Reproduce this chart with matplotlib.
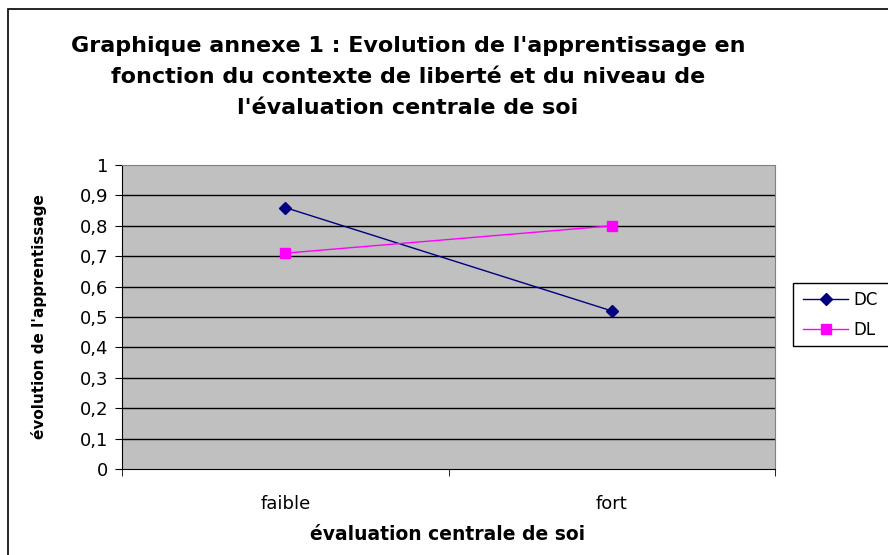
import matplotlib
matplotlib.use("Agg")
import matplotlib.pyplot as plt
from matplotlib.patches import Rectangle
from matplotlib.ticker import FixedLocator, NullFormatter

plt.rcParams['font.family'] = ['DejaVu Sans']

categories = ["faible", "fort"]
dc_values = [0.86, 0.52]
dl_values = [0.71, 0.80]
y_ticks = [0, 0.1, 0.2, 0.3, 0.4, 0.5, 0.6, 0.7, 0.8, 0.9, 1]
y_tick_labels = ["0", "0,1", "0,2", "0,3", "0,4", "0,5", "0,6", "0,7", "0,8", "0,9", "1"]
title = "Graphique annexe 1 : Evolution de l'apprentissage en\nfonction du contexte de liberté et du niveau de\nl'évaluation centrale de soi"

W, H = 888, 555
fig = plt.figure(figsize=(W/100, H/100), dpi=100)
fig.patch.set_facecolor("white")

# outer frame (extends beyond right and bottom edges)
fig.add_artist(Rectangle((8/W, -0.1), 1.0, 1.1 - 9/H, transform=fig.transFigure,
                         fill=False, edgecolor="black", linewidth=1.2))

left, right, top, bottom = 122, 775, 165, 469
ax = fig.add_axes([left/W, 1 - bottom/H, (right-left)/W, (bottom-top)/H])
ax.set_facecolor("#C0C0C0")

x = list(range(len(categories)))
ax.plot(x, dc_values, color="#000080", linewidth=1, marker="D", markersize=6.5, label="DC", zorder=3)
ax.plot(x, dl_values, color="#FF00FF", linewidth=1, marker="s", markersize=7, label="DL", zorder=3)

ax.set_xlim(-0.5, len(categories) - 0.5)
ax.set_ylim(0, 1)
ax.set_yticks(y_ticks)
ax.set_yticklabels(y_tick_labels, fontsize=13)
for yv in y_ticks[1:-1]:
    ax.axhline(yv, color="black", linewidth=1, zorder=1)

ax.set_xticks(x)
ax.set_xticklabels(categories, fontsize=13)
ax.tick_params(axis="x", length=0, pad=19)
ax.xaxis.set_minor_locator(FixedLocator([-0.5, 0.5, 1.5]))
ax.xaxis.set_minor_formatter(NullFormatter())
ax.tick_params(axis="x", which="minor", length=5, direction="out", color="black")
ax.tick_params(axis="y", length=5, direction="out", color="black", pad=5)

ax.spines["top"].set_color("#808080")
ax.spines["right"].set_color("#808080")
ax.spines["left"].set_color("black")
ax.spines["bottom"].set_color("black")

ax.set_ylabel("évolution de l'apprentissage", fontsize=11, fontweight="bold")
ax.yaxis.set_label_coords((39 - left)/(right - left), 0.5)
ax.yaxis.label.set_va("center")
ax.set_xlabel("évaluation centrale de soi", fontsize=13.5, fontweight="bold")
ax.xaxis.set_label_coords((448 - left)/(right - left), (bottom - 535)/(bottom - top))
ax.xaxis.label.set_va("center")

fig.text(408/W, 1 - 77/H, title, ha="center", va="center", fontsize=16, fontweight="bold",
         linespacing=1.68)

# legend box (extends beyond right edge)
fig.add_artist(Rectangle((793/W, 1 - 346/H), 0.2, (346 - 283)/H, transform=fig.transFigure,
                         facecolor="white", edgecolor="black", linewidth=1))
leg = fig.legend(loc="center left", bbox_to_anchor=(803/W, 1 - 315/H), fontsize=12,
                 frameon=False, handlelength=2.7, borderpad=0, borderaxespad=0,
                 labelspacing=0.75, handletextpad=0.35)

fig.savefig("out.png", dpi=100)
